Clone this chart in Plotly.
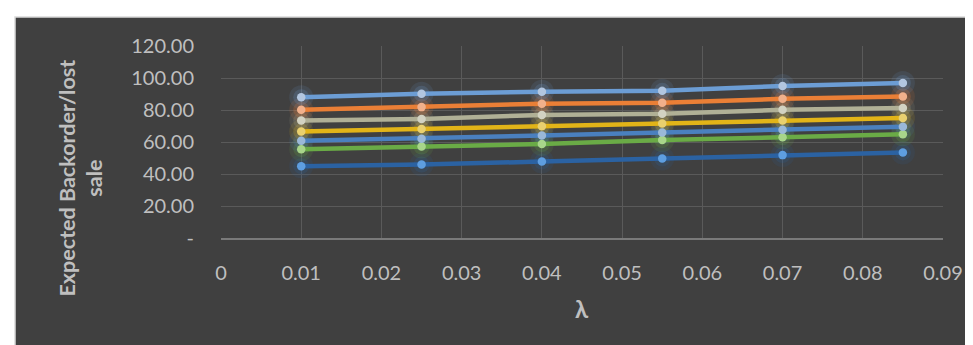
import plotly.graph_objects as go

lam = [0.01, 0.025, 0.04, 0.055, 0.07, 0.085]

s_darkblue = [44.9, 45.9, 47.8, 49.7, 51.8, 53.5]
s_green = [55.5, 57.2, 58.7, 61.2, 62.9, 64.8]
s_blue = [60.8, 62.1, 64.0, 66.0, 67.7, 69.6]
s_yellow = [66.5, 68.1, 69.8, 71.5, 73.4, 75.0]
s_gray = [73.4, 74.4, 76.9, 77.6, 80.1, 81.3]
s_orange = [80.1, 81.8, 83.9, 84.5, 87.0, 88.5]
s_lightblue = [88.0, 90.2, 91.4, 92.0, 95.0, 96.9]

y_tickvals = [0, 20, 40, 60, 80, 100, 120]
y_ticktext = ["-", "20.00", "40.00", "60.00", "80.00", "100.00", "120.00"]
x_tickvals = [0, 0.01, 0.02, 0.03, 0.04, 0.05, 0.06, 0.07, 0.08, 0.09]
x_ticktext = ["0", "0.01", "0.02", "0.03", "0.04", "0.05", "0.06", "0.07", "0.08", "0.09"]

series = [
    (s_darkblue, "#2b62a2", "#5e9ee0"),
    (s_green, "#6aab46", "#a8d58a"),
    (s_blue, "#4a80bf", "#9ab8d8"),
    (s_yellow, "#e2b418", "#e9d06f"),
    (s_gray, "#b0b096", "#d2d2c2"),
    (s_orange, "#ea7f36", "#f1b08b"),
    (s_lightblue, "#6c9dd4", "#b2c6e0"),
]

fig = go.Figure()

# glow layers
for vals, lc, mc in series:
    fig.add_trace(go.Scatter(x=lam, y=vals, mode="markers", showlegend=False,
                             hoverinfo="skip",
                             marker=dict(size=24, color=lc, opacity=0.12, line=dict(width=0))))
    fig.add_trace(go.Scatter(x=lam, y=vals, mode="markers", showlegend=False,
                             hoverinfo="skip",
                             marker=dict(size=16, color=lc, opacity=0.2, line=dict(width=0))))

for vals, lc, mc in series:
    fig.add_trace(go.Scatter(x=lam, y=vals, mode="lines+markers", showlegend=False,
                             line=dict(color=lc, width=4.5),
                             marker=dict(size=8.5, color=mc, line=dict(width=0))))

L, R, T, B = 213, 38, 38, 115
W, H = 973, 345
pw = W - L - R
ph = H - T - B

def px_x(p):
    return (p - L) / pw

def px_y(p):
    return (H - B - p) / ph

fig.add_shape(type="rect", xref="paper", yref="paper",
              x0=px_x(7), x1=px_x(966), y0=px_y(338), y1=px_y(9),
              fillcolor="#404040", line=dict(color="#d9d9d9", width=1.5),
              layer="below")

fig.add_annotation(text="<b>Expected Backorder/lost<br>sale</b>", textangle=-90,
                   xref="paper", yref="paper", x=px_x(72.5), y=px_y(170),
                   showarrow=False, font=dict(family="Lato", size=21.5, color="#bfbfbf"),
                   xanchor="center", yanchor="middle")
fig.add_annotation(text="<b>λ</b>", xref="paper", yref="paper",
                   x=px_x(574), y=px_y(300), showarrow=False,
                   font=dict(family="Lato", size=24, color="#bfbfbf"),
                   xanchor="center", yanchor="middle")

fig.update_layout(
    width=W, height=H,
    margin=dict(l=L, r=R, t=T, b=B),
    paper_bgcolor="white",
    plot_bgcolor="#404040",
    font=dict(family="Lato", size=20, color="#bfbfbf"),
    xaxis=dict(range=[0, 0.09], tickvals=x_tickvals, ticktext=x_ticktext,
               showgrid=True, gridcolor="#5a5a5a", gridwidth=1,
               zeroline=False, showline=True, linecolor="#7a7a7a", linewidth=1.5,
               ticks="", ticklabelstandoff=16,
               tickfont=dict(family="Lato", size=20, color="#bfbfbf")),
    yaxis=dict(range=[0, 120], tickvals=y_tickvals, ticktext=y_ticktext,
               showgrid=True, gridcolor="#5a5a5a", gridwidth=1,
               zeroline=False, showline=False, ticks="", ticklabelstandoff=26,
               tickfont=dict(family="Lato", size=20, color="#bfbfbf")),
)

fig.write_html("out.html")
